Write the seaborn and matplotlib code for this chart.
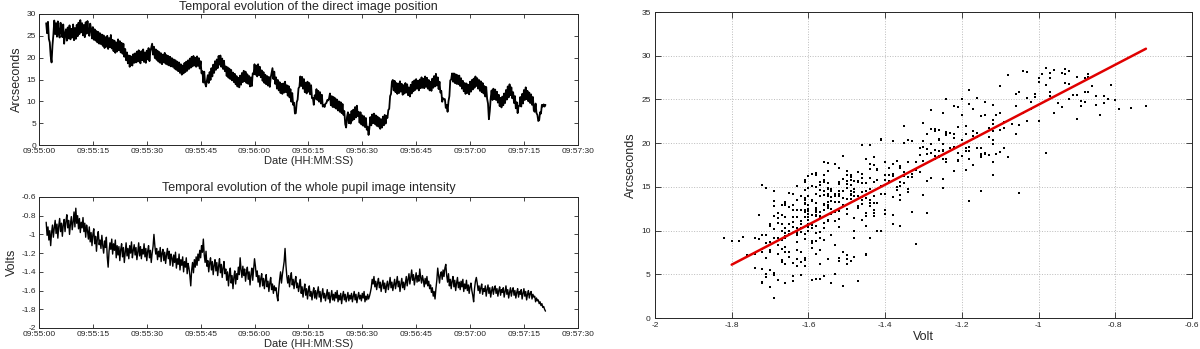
import numpy as np
import pandas as pd
import matplotlib
matplotlib.use("Agg")
import matplotlib.pyplot as plt
import matplotlib.dates as mdates
from matplotlib.ticker import FuncFormatter, MultipleLocator
import seaborn as sns

# -----------------------------
# data (one sample every 0.25 s from 09:55:02)
# each row = 5 seconds
# -----------------------------
start_time = "2008-06-12 09:55:02"
sample_step = "250ms"

# direct image position (arcseconds)
arcsec = [
    27.9, 25.6, 28.2, 24.3, 23.5, 20.4, 18.9, 22.8, 25.2, 28.5, 25.4, 27.9, 24.8, 28.3, 25.5, 24.6, 28.0, 25.8, 24.7, 27.6,
    23.2, 25.4, 26.5, 23.9, 26.9, 24.4, 27.4, 24.2, 26.6, 24.6, 27.6, 24.0, 26.8, 24.3, 27.5, 24.9, 28.0, 25.4, 28.6, 25.8,
    27.9, 25.1, 27.5, 24.7, 28.1, 25.5, 28.4, 25.9, 25.0, 27.8, 26.6, 24.4, 27.0, 24.1, 26.5, 23.9, 26.1, 23.5, 25.9, 23.2,
    25.6, 23.1, 25.3, 22.7, 25.1, 22.2, 24.7, 22.5, 25.0, 22.0, 24.5, 22.4, 25.2, 22.1, 24.1, 21.5, 23.9, 21.1, 23.5, 21.4,
    24.2, 21.7, 23.8, 21.2, 23.4, 20.9, 23.2, 20.2, 22.0, 19.4, 21.2, 18.7, 20.5, 17.9, 20.4, 18.4, 18.2, 20.8, 18.8, 21.0,
    18.9, 21.4, 19.1, 21.7, 19.5, 18.7, 21.5, 19.4, 21.9, 19.0, 21.2, 18.8, 21.6, 19.6, 22.2, 19.2, 21.4, 22.3, 23.2, 20.7,
    22.5, 19.9, 21.9, 19.5, 21.6, 19.1, 21.3, 18.8, 21.0, 18.5, 20.7, 18.9, 21.1, 18.6, 20.6, 18.4, 20.4, 18.2, 20.2, 18.0,
    19.9, 17.9, 19.6, 17.5, 19.4, 17.2, 19.1, 16.9, 18.9, 16.5, 18.5, 16.1, 18.2, 16.4, 18.8, 16.7, 19.1, 17.0, 19.4, 17.4,
    19.8, 17.7, 20.2, 18.0, 20.4, 18.2, 20.0, 17.9, 20.3, 18.1, 19.9, 17.5, 19.2, 16.4, 16.9, 14.3, 16.8, 14.1, 13.4, 14.8,
    16.0, 14.2, 16.7, 14.9, 17.6, 15.7, 18.4, 16.5, 19.2, 17.2, 19.6, 17.6, 20.4, 18.4, 20.5, 17.9, 19.8, 17.4, 19.3, 16.9,
    18.0, 15.8, 17.8, 15.4, 17.5, 15.1, 17.2, 14.8, 16.6, 14.4, 16.3, 13.9, 15.8, 13.4, 15.4, 13.2, 15.9, 13.8, 16.5, 14.4,
    17.0, 14.6, 16.8, 14.2, 16.2, 14.0, 15.8, 13.4, 15.5, 13.5, 16.4, 16.2, 18.5, 16.1, 18.2, 15.7, 18.5, 16.0, 17.9, 15.5,
    17.1, 14.7, 16.7, 14.2, 16.1, 13.9, 15.8, 13.6, 15.6, 13.3, 15.4, 16.5, 17.6, 15.1, 16.8, 14.0, 15.5, 12.9, 14.9, 12.5,
    14.4, 11.9, 14.0, 11.7, 14.1, 12.0, 14.5, 12.1, 13.7, 11.3, 13.5, 10.9, 12.8, 9.9, 11.9, 9.2, 9.7, 7.2, 7.3, 9.8,
    10.4, 13.0, 13.3, 15.7, 13.5, 15.6, 12.9, 15.1, 12.1, 14.3, 11.8, 14.5, 12.2, 14.2, 11.6, 13.7, 10.7, 10.8, 9.2, 11.4,
    10.6, 12.8, 10.3, 12.4, 9.9, 12.1, 9.5, 11.5, 8.8, 9.2, 8.7, 9.5, 9.6, 10.3, 10.2, 10.7, 11.8, 9.1, 11.2, 8.7,
    11.0, 8.6, 10.7, 8.3, 10.4, 7.9, 10.0, 7.6, 9.8, 7.3, 9.4, 6.9, 7.8, 4.8, 4.0, 6.4, 7.5, 5.0, 7.0, 4.9,
    7.8, 5.6, 8.1, 5.9, 8.7, 6.3, 9.0, 6.6, 7.6, 5.1, 7.5, 4.7, 6.8, 4.4, 6.6, 4.1, 6.2, 3.5, 4.2, 2.3,
    4.0, 6.4, 4.5, 7.0, 5.0, 7.2, 4.8, 6.8, 4.4, 6.5, 4.2, 6.2, 3.7, 5.9, 4.0, 6.5, 4.5, 6.9, 4.9, 6.7,
    6.2, 8.0, 8.3, 11.2, 11.7, 14.5, 14.9, 12.5, 14.7, 12.1, 14.2, 11.7, 14.1, 11.9, 14.6, 12.2, 14.0, 11.5, 13.7, 11.8,
    14.2, 12.0, 13.9, 11.4, 13.2, 11.1, 13.8, 11.8, 14.5, 12.3, 14.8, 12.6, 15.1, 12.9, 14.7, 12.5, 15.0, 13.0, 15.5, 13.1,
    15.2, 13.0, 15.7, 13.3, 15.4, 12.9, 14.9, 12.5, 14.5, 12.4, 15.2, 13.1, 15.8, 13.4, 16.3, 13.6, 15.5, 12.8, 14.5, 12.0,
    12.4, 9.9, 10.7, 10.5, 10.5, 8.5, 9.2, 7.6, 10.0, 11.2, 14.8, 15.0, 16.4, 14.5, 16.4, 14.2, 16.2, 14.0, 16.0, 13.9,
    15.9, 13.5, 15.3, 12.9, 14.7, 12.3, 14.2, 11.7, 14.1, 11.9, 13.8, 11.6, 14.5, 12.2, 14.9, 12.7, 15.2, 13.1, 15.7, 13.5,
    15.3, 12.9, 14.9, 12.4, 14.6, 12.1, 14.2, 11.8, 13.5, 11.1, 13.3, 10.6, 9.5, 5.9, 7.8, 10.7, 12.5, 10.3, 12.9, 10.5,
    12.7, 10.3, 12.2, 9.7, 11.5, 8.9, 10.8, 8.6, 11.1, 9.1, 11.8, 9.6, 12.6, 10.4, 13.4, 10.9, 13.9, 11.4, 13.2, 10.7,
    12.1, 9.6, 11.2, 8.4, 9.8, 7.3, 8.9, 9.0, 11.0, 8.8, 11.7, 9.5, 12.6, 10.3, 13.2, 10.5, 12.4, 10.0, 12.0, 9.6,
    11.6, 9.2, 11.0, 7.9, 7.6, 9.5, 7.3, 6.9, 5.5, 5.7, 7.5, 7.2, 9.2, 8.8, 9.3, 8.8, 9.2,
]

# whole pupil image intensity (volts)
volt = [
    -0.87, -1.01, -0.92, -1.06, -0.96, -1.12, -0.98, -0.90, -1.03, -0.93, -0.85, -0.99, -0.89, -1.04, -0.91, -0.83, -0.97, -0.88, -1.02, -0.90,
    -0.84, -0.97, -0.86, -0.79, -0.93, -0.85, -1.00, -0.89, -0.81, -0.95, -0.87, -0.76, -0.92, -0.72, -0.88, -0.80, -0.94, -0.83, -0.98, -0.87,
    -0.93, -0.82, -0.97, -0.88, -1.03, -0.90, -0.96, -1.05, -0.92, -1.08, -0.98, -1.12, -1.00, -0.94, -1.10, -1.02, -1.18, -1.04, -0.97, -1.11,
    -1.06, -1.15, -1.01, -1.12, -1.20, -1.07, -1.14, -1.03, -1.24, -1.35, -1.18, -1.09, -1.16, -1.05, -1.21, -1.10, -1.17, -1.06, -1.25, -1.12,
    -1.22, -1.13, -1.28, -1.16, -1.10, -1.24, -1.14, -1.30, -1.19, -1.09, -1.23, -1.15, -1.26, -1.12, -1.20, -1.08, -1.25, -1.17, -1.11, -1.22,
    -1.14, -1.27, -1.19, -1.09, -1.23, -1.13, -1.26, -1.16, -1.21, -1.10, -1.24, -1.15, -1.28, -1.18, -1.12, -1.25, -1.17, -1.30, -1.20, -1.13,
    -1.00, -1.12, -1.21, -1.15, -1.27, -1.18, -1.24, -1.14, -1.29, -1.20, -1.16, -1.28, -1.19, -1.31, -1.22, -1.15, -1.26, -1.18, -1.33, -1.21,
    -1.25, -1.34, -1.22, -1.30, -1.19, -1.36, -1.26, -1.32, -1.21, -1.38, -1.27, -1.33, -1.24, -1.40, -1.29, -1.35, -1.25, -1.42, -1.31, -1.36,
    -1.44, -1.55, -1.38, -1.30, -1.41, -1.27, -1.35, -1.24, -1.33, -1.21, -1.28, -1.17, -1.25, -1.12, -1.19, -1.05, -1.22, -1.30, -1.18, -1.34,
    -1.28, -1.40, -1.31, -1.25, -1.38, -1.29, -1.43, -1.33, -1.27, -1.39, -1.30, -1.44, -1.34, -1.26, -1.41, -1.32, -1.46, -1.36, -1.29, -1.42,
    -1.37, -1.49, -1.40, -1.55, -1.43, -1.36, -1.52, -1.44, -1.58, -1.46, -1.39, -1.53, -1.42, -1.48, -1.35, -1.43, -1.25, -1.38, -1.46, -1.34,
    -1.44, -1.37, -1.50, -1.41, -1.35, -1.48, -1.40, -1.54, -1.43, -1.36, -1.49, -1.38, -1.26, -1.34, -1.45, -1.39, -1.51, -1.44, -1.56, -1.47,
    -1.42, -1.55, -1.47, -1.58, -1.49, -1.43, -1.56, -1.50, -1.61, -1.52, -1.46, -1.59, -1.53, -1.63, -1.55, -1.60, -1.57, -1.66, -1.71, -1.58,
    -1.48, -1.40, -1.52, -1.43, -1.36, -1.29, -1.15, -1.33, -1.45, -1.52, -1.44, -1.56, -1.47, -1.41, -1.54, -1.48, -1.58, -1.50, -1.45, -1.57,
    -1.52, -1.61, -1.55, -1.48, -1.63, -1.56, -1.67, -1.59, -1.53, -1.65, -1.58, -1.69, -1.60, -1.55, -1.66, -1.61, -1.70, -1.62, -1.57, -1.68,
    -1.60, -1.69, -1.62, -1.56, -1.67, -1.61, -1.72, -1.64, -1.58, -1.68, -1.63, -1.71, -1.65, -1.59, -1.69, -1.62, -1.73, -1.66, -1.60, -1.70,
    -1.64, -1.71, -1.62, -1.68, -1.60, -1.72, -1.65, -1.70, -1.63, -1.74, -1.66, -1.61, -1.70, -1.64, -1.72, -1.67, -1.62, -1.71, -1.65, -1.69,
    -1.63, -1.72, -1.66, -1.61, -1.70, -1.64, -1.73, -1.67, -1.62, -1.69, -1.65, -1.71, -1.63, -1.68, -1.61, -1.72, -1.66, -1.70, -1.64, -1.69,
    -1.66, -1.62, -1.57, -1.48, -1.53, -1.45, -1.56, -1.50, -1.59, -1.52, -1.47, -1.57, -1.51, -1.61, -1.54, -1.49, -1.58, -1.52, -1.62, -1.55,
    -1.50, -1.59, -1.53, -1.46, -1.57, -1.51, -1.60, -1.54, -1.48, -1.58, -1.52, -1.45, -1.56, -1.50, -1.61, -1.53, -1.47, -1.57, -1.51, -1.59,
    -1.52, -1.45, -1.55, -1.48, -1.42, -1.53, -1.46, -1.38, -1.49, -1.43, -1.54, -1.47, -1.41, -1.51, -1.44, -1.50, -1.37, -1.46, -1.52, -1.44,
    -1.49, -1.56, -1.47, -1.53, -1.45, -1.55, -1.50, -1.58, -1.54, -1.62, -1.57, -1.66, -1.61, -1.69, -1.58, -1.49, -1.36, -1.44, -1.52, -1.43,
    -1.40, -1.48, -1.38, -1.45, -1.36, -1.32, -1.44, -1.51, -1.42, -1.55, -1.48, -1.58, -1.50, -1.45, -1.56, -1.49, -1.60, -1.52, -1.46, -1.57,
    -1.51, -1.59, -1.50, -1.56, -1.48, -1.61, -1.53, -1.58, -1.49, -1.60, -1.54, -1.63, -1.56, -1.52, -1.60, -1.65, -1.72, -1.58, -1.50, -1.46,
    -1.52, -1.60, -1.55, -1.63, -1.57, -1.53, -1.64, -1.58, -1.61, -1.55, -1.66, -1.59, -1.54, -1.63, -1.57, -1.67, -1.60, -1.56, -1.64, -1.58,
    -1.55, -1.63, -1.58, -1.66, -1.60, -1.56, -1.65, -1.59, -1.62, -1.57, -1.67, -1.61, -1.55, -1.64, -1.59, -1.68, -1.62, -1.57, -1.66, -1.60,
    -1.57, -1.65, -1.60, -1.68, -1.62, -1.58, -1.67, -1.61, -1.64, -1.59, -1.69, -1.63, -1.58, -1.66, -1.61, -1.70, -1.64, -1.60, -1.68, -1.63,
    -1.61, -1.69, -1.64, -1.67, -1.66, -1.72, -1.68, -1.71, -1.70, -1.74, -1.72, -1.76, -1.74, -1.78, -1.77, -1.80, -1.82,
]

# red linear fit, end points
fit_volt = [-1.80, -0.72]
fit_arcsec = [6.1, 30.8]

df = pd.DataFrame({
    "time": pd.date_range(start_time, periods=len(arcsec), freq=sample_step),
    "arcsec": arcsec,
    "volt": volt,
})
fit_df = pd.DataFrame({"volt": fit_volt, "arcsec": fit_arcsec})

# -----------------------------
# style
# -----------------------------
sns.set_style("ticks")
plt.rcParams["font.family"] = ["Liberation Sans", "DejaVu Sans"]
plt.rcParams["axes.unicode_minus"] = False
plt.rcParams["xtick.direction"] = "in"
plt.rcParams["ytick.direction"] = "in"
plt.rcParams["xtick.top"] = True
plt.rcParams["ytick.right"] = True

fig = plt.figure(figsize=(12, 3.49), dpi=100)
ax1 = fig.add_axes([0.0325, 0.5845, 0.449, 0.3754])
ax2 = fig.add_axes([0.0325, 0.0602, 0.449, 0.3754])
ax3 = fig.add_axes([0.5458, 0.0888, 0.4475, 0.8768])

gfmt = FuncFormatter(lambda v, p: "%g" % round(v, 2))
t0 = pd.Timestamp("2008-06-12 09:55:00")
t1 = pd.Timestamp("2008-06-12 09:57:30")

# -----------------------------
# left: time series
# -----------------------------
sns.lineplot(data=df, x="time", y="arcsec", ax=ax1, color="black", lw=1.3, estimator=None)
sns.lineplot(data=df, x="time", y="volt", ax=ax2, color="black", lw=1.0, estimator=None)

for ax in (ax1, ax2):
    ax.set_xlim(t0, t1)
    ax.xaxis.set_major_locator(mdates.SecondLocator(bysecond=[0, 15, 30, 45]))
    ax.xaxis.set_major_formatter(mdates.DateFormatter("%H:%M:%S"))
    ax.tick_params(labelsize=6, length=3, width=0.6, pad=2)
    ax.set_xlabel("Date (HH:MM:SS)", fontsize=8, labelpad=1)
    for s in ax.spines.values():
        s.set_linewidth(0.7)

ax1.set_ylim(0, 30)
ax1.yaxis.set_major_locator(MultipleLocator(5))
ax1.set_ylabel("Arcseconds", fontsize=9, labelpad=3)
ax1.set_title("Temporal evolution of the direct image position", fontsize=9, pad=3)

ax2.set_ylim(-2, -0.6)
ax2.yaxis.set_major_locator(MultipleLocator(0.2))
ax2.yaxis.set_major_formatter(gfmt)
ax2.set_ylabel("Volts", fontsize=9, labelpad=3)
ax2.set_title("Temporal evolution of the whole pupil image intensity", fontsize=9, pad=4)

# -----------------------------
# right: arcseconds vs volts
# -----------------------------
sns.scatterplot(data=df, x="volt", y="arcsec", ax=ax3, color="black", s=3,
                marker="s", linewidth=0)
sns.lineplot(data=fit_df, x="volt", y="arcsec", ax=ax3, color="#e00000", lw=1.8)

ax3.set_xlim(-2, -0.6)
ax3.set_ylim(0, 35)
ax3.xaxis.set_major_locator(MultipleLocator(0.2))
ax3.yaxis.set_major_locator(MultipleLocator(5))
ax3.xaxis.set_major_formatter(gfmt)
ax3.grid(True, ls=":", color="#bbbbbb", lw=0.7)
ax3.tick_params(labelsize=6, length=4, width=0.6, pad=3)
ax3.set_xlabel("Volt", fontsize=9, labelpad=1)
ax3.set_ylabel("Arcseconds", fontsize=9, labelpad=3)
for s in ax3.spines.values():
    s.set_linewidth(0.7)

fig.savefig("out.png", dpi=100)
